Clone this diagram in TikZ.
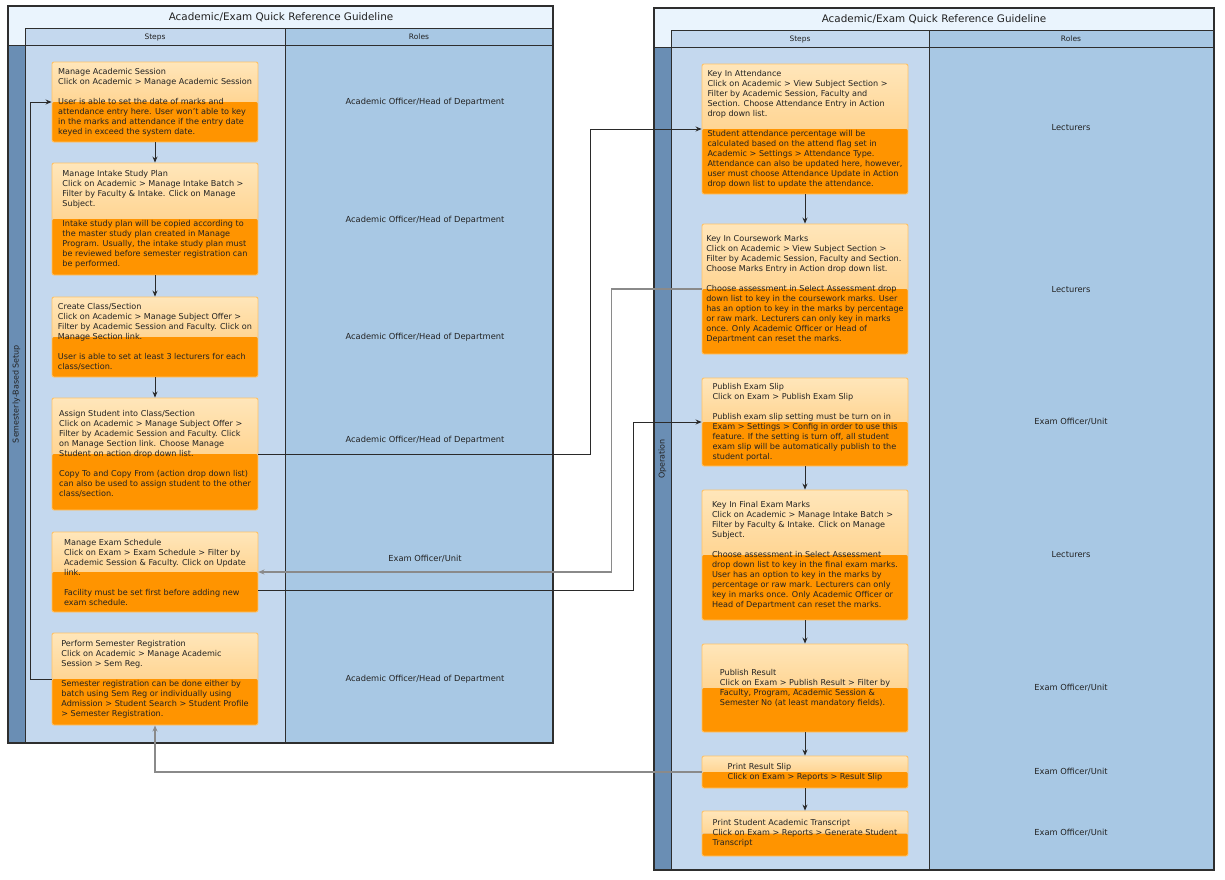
\documentclass[tikz,border=0pt]{standalone}
\usepackage{fontspec}
\setmainfont{DejaVu Sans}
\usetikzlibrary{arrows.meta}
\definecolor{titlebg}{HTML}{EAF4FD}
\definecolor{stepbg}{HTML}{C4D8EE}
\definecolor{rolebg}{HTML}{A8C8E4}
\definecolor{lanebg}{HTML}{6A8EB4}
\definecolor{framecol}{HTML}{2E2E2E}
\definecolor{boxtop}{HTML}{FFE6BA}
\definecolor{boxmid}{HTML}{FFC46C}
\definecolor{boxbot}{HTML}{FF9400}
\definecolor{boxline}{HTML}{FFC266}
\definecolor{txt}{HTML}{222222}
\definecolor{conn}{HTML}{2A2A2A}
\definecolor{conngray}{HTML}{8A8A8A}
\tikzset{
  stepbox/.style={draw=boxline, line width=0.9pt, rounded corners=2pt,
    minimum width=206pt, inner sep=0pt, align=left, text=txt,
    font=\fontsize{8.1}{10}\selectfont,
    path picture={
      \shade[top color=boxtop, bottom color=boxmid]
        (path picture bounding box.north west) rectangle (path picture bounding box.east);
      \fill[boxbot] (path picture bounding box.west) rectangle (path picture bounding box.south east);
    }},
  roletext/.style={text=txt, font=\fontsize{8.3}{10}\selectfont, inner sep=1pt},
  titletext/.style={text=txt, font=\fontsize{10.4}{12}\selectfont, inner sep=1pt},
  headtext/.style={text=txt, font=\fontsize{7.5}{9}\selectfont, inner sep=1pt},
  lanetext/.style={text=txt, font=\fontsize{8}{9}\selectfont, inner sep=1pt, rotate=90},
  panelline/.style={draw=framecol, line width=0.9pt},
  outerline/.style={draw=framecol, line width=1.2pt},
  flow/.style={draw=conn, line width=0.8pt, -{Stealth[length=6pt,width=5pt]}},
  flowgray/.style={draw=conngray, line width=1.1pt, -{Stealth[length=6pt,width=5pt]}},
}
\begin{document}
\begin{tikzpicture}[x=1pt,y=-1pt]
\useasboundingbox (0,0) rectangle (1225,879);
\fill[white] (0,0) rectangle (1225,879);

% ---------- left panel ----------
\fill[titlebg] (8,6) rectangle (553,743);
\fill[lanebg] (8,45) rectangle (25,743);
\fill[stepbg] (25,28) rectangle (285,743);
\fill[rolebg] (285,28) rectangle (553,743);
\draw[panelline] (25,28) -- (553,28);
\draw[panelline] (8,45) -- (553,45);
\draw[panelline] (25,28) -- (25,743);
\draw[panelline] (285,28) -- (285,743);
\draw[outerline] (8,6) rectangle (553,743);
\node[titletext] (lt) at (281,17) {Academic/Exam Quick Reference Guideline};
\node[headtext] (lhs) at (155,37) {Steps};
\node[headtext] (lhr) at (419,37) {Roles};
\node[lanetext] (llane) at (16.5,394) {Semesterly-Based Setup};

% ---------- right panel ----------
\fill[titlebg] (654,8) rectangle (1214,870);
\fill[lanebg] (654,47) rectangle (671,870);
\fill[stepbg] (671,30) rectangle (929,870);
\fill[rolebg] (929,30) rectangle (1214,870);
\draw[panelline] (671,30) -- (1214,30);
\draw[panelline] (654,47) -- (1214,47);
\draw[panelline] (671,30) -- (671,870);
\draw[panelline] (929,30) -- (929,870);
\draw[outerline] (654,8) rectangle (1214,870);
\node[titletext] (rt) at (934,19) {Academic/Exam Quick Reference Guideline};
\node[headtext] (rhs) at (800,39) {Steps};
\node[headtext] (rhr) at (1071,39) {Roles};
\node[lanetext] (rlane) at (662.5,459) {Operation};

% ---------- left steps ----------
\node[stepbox, minimum height=80pt] (L1) at (155,102) {Manage Academic Session\\
Click on Academic > Manage Academic Session\\[10pt]
User is able to set the date of marks and\\
attendance entry here. User won't able to key\\
in the marks and attendance if the entry date\\
keyed in exceed the system date.};

\node[stepbox, minimum height=112pt] (L2) at (155,219) {Manage Intake Study Plan\\
Click on Academic > Manage Intake Batch >\\
Filter by Faculty \& Intake. Click on Manage\\
Subject.\\[10pt]
Intake study plan will be copied according to\\
the master study plan created in Manage\\
Program. Usually, the intake study plan must\\
be reviewed before semester registration can\\
be performed.};

\node[stepbox, minimum height=80pt] (L3) at (155,337) {Create Class/Section\\
Click on Academic > Manage Subject Offer >\\
Filter by Academic Session and Faculty. Click on\\
Manage Section link.\\[10pt]
User is able to set at least 3 lecturers for each\\
class/section.};

\node[stepbox, minimum height=112pt] (L4) at (155,454) {Assign Student into Class/Section\\
Click on Academic > Manage Subject Offer >\\
Filter by Academic Session and Faculty. Click\\
on Manage Section link. Choose Manage\\
Student on action drop down list.\\[10pt]
Copy To and Copy From (action drop down list)\\
can also be used to assign student to the other\\
class/section.};

\node[stepbox, minimum height=80pt] (L5) at (155,572) {Manage Exam Schedule\\
Click on Exam > Exam Schedule > Filter by\\
Academic Session \& Faculty. Click on Update\\
link.\\[10pt]
Facility must be set first before adding new\\
exam schedule.};

\node[stepbox, minimum height=92pt] (L6) at (155,679) {Perform Semester Registration\\
Click on Academic > Manage Academic\\
Session > Sem Reg.\\[10pt]
Semester registration can be done either by\\
batch using Sem Reg or individually using\\
Admission > Student Search > Student Profile\\
> Semester Registration.};

% ---------- left roles ----------
\node[roletext] (LR1) at (425,102) {Academic Officer/Head of Department};
\node[roletext] (LR2) at (425,220) {Academic Officer/Head of Department};
\node[roletext] (LR3) at (425,337) {Academic Officer/Head of Department};
\node[roletext] (LR4) at (425,440) {Academic Officer/Head of Department};
\node[roletext] (LR5) at (425,559) {Exam Officer/Unit};
\node[roletext] (LR6) at (425,679) {Academic Officer/Head of Department};

% ---------- right steps ----------
\node[stepbox, minimum height=130pt] (R1) at (805,129) {Key In Attendance\\
Click on Academic > View Subject Section >\\
Filter by Academic Session, Faculty and\\
Section. Choose Attendance Entry in Action\\
drop down list.\\[10pt]
Student attendance percentage will be\\
calculated based on the attend flag set in\\
Academic > Settings > Attendance Type.\\
Attendance can also be updated here, however,\\
user must choose Attendance Update in Action\\
drop down list to update the attendance.};

\node[stepbox, minimum height=130pt] (R2) at (805,289) {Key In Coursework Marks\\
Click on Academic > View Subject Section >\\
Filter by Academic Session, Faculty and Section.\\
Choose Marks Entry in Action drop down list.\\[10pt]
Choose assessment in Select Assessment drop\\
down list to key in the coursework marks. User\\
has an option to key in the marks by percentage\\
or raw mark. Lecturers can only key in marks\\
once. Only Academic Officer or Head of\\
Department can reset the marks.};

\node[stepbox, minimum height=88pt] (R3) at (805,422) {Publish Exam Slip\\
Click on Exam > Publish Exam Slip\\[10pt]
Publish exam slip setting must be turn on in\\
Exam > Settings > Config in order to use this\\
feature. If the setting is turn off, all student\\
exam slip will be automatically publish to the\\
student portal.};

\node[stepbox, minimum height=130pt] (R4) at (805,555) {Key In Final Exam Marks\\
Click on Academic > Manage Intake Batch >\\
Filter by Faculty \& Intake. Click on Manage\\
Subject.\\[10pt]
Choose assessment in Select Assessment\\
drop down list to key in the final exam marks.\\
User has an option to key in the marks by\\
percentage or raw mark. Lecturers can only\\
key in marks once. Only Academic Officer or\\
Head of Department can reset the marks.};

\node[stepbox, minimum height=88pt] (R5) at (805,688) {Publish Result\\
Click on Exam > Publish Result > Filter by\\
Faculty, Program, Academic Session \&\\
Semester No (at least mandatory fields).};

\node[stepbox, minimum height=32pt] (R6) at (805,772) {Print Result Slip\\
Click on Exam > Reports > Result Slip};

\node[stepbox, minimum height=45pt] (R7) at (805,833.5) {Print Student Academic Transcript\\
Click on Exam > Reports > Generate Student\\
Transcript};

% ---------- right roles ----------
\node[roletext] (RR1) at (1071,128) {Lecturers};
\node[roletext] (RR2) at (1071,290) {Lecturers};
\node[roletext] (RR3) at (1071,422) {Exam Officer/Unit};
\node[roletext] (RR4) at (1071,555) {Lecturers};
\node[roletext] (RR5) at (1071,688) {Exam Officer/Unit};
\node[roletext] (RR6) at (1071,772) {Exam Officer/Unit};
\node[roletext] (RR7) at (1071,833) {Exam Officer/Unit};

% ---------- flow arrows ----------
\draw[flow] (L1.south) -- (L2.north);
\draw[flow] (L2.south) -- (L3.north);
\draw[flow] (L3.south) -- (L4.north);
\draw[flow] (L6.west) -- ++(-21,0) |- (L1.west);

\draw[flow] (R1.south) -- (R2.north);
\draw[flow] (R3.south) -- (R4.north);
\draw[flow] (R4.south) -- (R5.north);
\draw[flow] (R5.south) -- (R6.north);
\draw[flow] (R6.south) -- (R7.north);

\draw[flow] (L4.east) -- ++(332,0) |- (R1.west);
\draw[flowgray] (R2.west) -- ++(-90,0) |- (L5.east);
\draw[flow] ([yshift=-18pt]L5.east) -- ++(375,0) |- (R3.west);
\draw[flowgray] (R6.west) -| (L6.south);
\end{tikzpicture}
\end{document}
